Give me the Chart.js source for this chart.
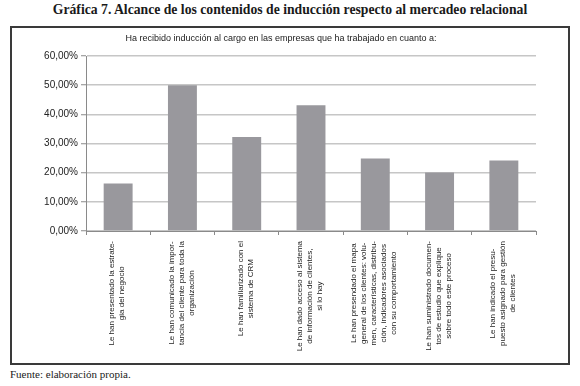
<!DOCTYPE html>
<html>
<head>
<meta charset="utf-8">
<script src="https://cdn.jsdelivr.net/npm/chart.js@4.4.1/dist/chart.umd.min.js"></script>
<style>
  body { margin: 0; width: 580px; height: 386px; background: #fff; position: relative; overflow: hidden; }
  #title { position: absolute; left: 0; top: 2px; width: 580px; text-align: center;
           font: bold 13.7px "Liberation Serif", serif; color: #1a1a1a; }
  #frame { position: absolute; left: 10px; top: 26px; width: 556px; height: 335px;
           border: 2px solid #3a3a3a; }
  #frame canvas { display: block; }
  #source { position: absolute; left: 10px; top: 368px; font: 11px "Liberation Serif", serif; color: #1a1a1a; }
</style>
</head>
<body>
<div id="title">Gráfica 7. Alcance de los contenidos de inducción respecto al mercadeo relacional</div>
<div id="frame"><canvas id="chart" width="556" height="335"></canvas></div>
<div id="source">Fuente: elaboración propia.</div>
<script>
// categories (multi-line, as broken in the original)
const categories = [
    ['Le han presentado la estrate-', 'gia del negocio'],
    ['Le han comunicado la impor-', 'tancia del cliente para toda la', 'organización'],
    ['Le han familiarizado con el', 'sistema de CRM'],
    ['Le han dado acceso al sistema', 'de información de clientes,', 'si lo hay'],
    ['Le han presendado el mapa', 'general de los clientes: volu-', 'men, características, distribu-', 'ción, indicadores asociados', 'con su comportamiento'],
    ['Le han suministrado documen-', 'tos de estudio que explique', 'sobre todo este proceso'],
    ['Le han indicado el presu-', 'puesto asignado para gestión', 'de clientes']
];
const percentages = [16.3, 50.0, 32.2, 43.1, 24.9, 20.1, 24.2];
const yTicks = [0, 10, 20, 30, 40, 50, 60];
const subtitle = 'Ha recibido inducción al cargo en las empresas que ha trabajado en cuanto a:';

const SANS = '"Liberation Sans", Arial, sans-serif';

// subtitle + rotated, centred multi-line category labels
const textPlugin = {
    id: 'texts',
    afterDraw(chart) {
        const ctx = chart.ctx;
        const xs = chart.scales.x;
        ctx.save();
        ctx.fillStyle = '#1a1a1a';
        ctx.font = '9px ' + SANS;
        ctx.textAlign = 'center';
        ctx.textBaseline = 'middle';
        ctx.fillText(subtitle, 269, 11);

        const lineH = 10;
        ctx.font = '8px ' + SANS;
        ctx.fillStyle = '#222';
        chart.data.labels.forEach((lines, i) => {
            const x = xs.getPixelForValue(i);
            const w = Math.max(...lines.map(l => ctx.measureText(l).width));
            ctx.save();
            ctx.translate(x - 1, xs.top + 10 + w / 2);
            ctx.rotate(-Math.PI / 2);
            lines.forEach((l, j) => {
                ctx.fillText(l, 0, (j - (lines.length - 1) / 2) * lineH);
            });
            ctx.restore();
        });
        ctx.restore();
    }
};

const ctx = document.getElementById('chart').getContext('2d');
new Chart(ctx, {
    type: 'bar',
    data: {
        labels: categories,
        datasets: [{
            data: percentages,
            backgroundColor: '#99989d',
            borderWidth: 0,
            barPercentage: 0.45,
            categoryPercentage: 1
        }]
    },
    options: {
        responsive: false,
        animation: false,
        layout: { padding: { left: 0, right: 32, top: 28, bottom: 0 } },
        plugins: {
            legend: { display: false },
            tooltip: { enabled: false },
            title: { display: false }
        },
        scales: {
            x: {
                afterFit: s => { s.height = 132; },
                ticks: { display: false },
                grid: {
                    offset: true,
                    drawOnChartArea: false,
                    drawTicks: true,
                    tickLength: 4,
                    tickColor: '#8a8a8a',
                    lineWidth: 1
                },
                border: { display: true, color: '#8a8a8a', width: 1 }
            },
            y: {
                min: 0,
                max: 60,
                afterFit: s => { s.width = 74; },
                afterBuildTicks: s => { s.ticks = yTicks.map(v => ({ value: v })); },
                ticks: {
                    color: '#222',
                    padding: 3,
                    font: { family: SANS, size: 10 },
                    callback: v => v.toFixed(2).replace('.', ',') + '%'
                },
                grid: {
                    color: '#c6c6c6',
                    lineWidth: 1.5,
                    tickLength: 5,
                    tickColor: '#8a8a8a',
                    tickWidth: 1
                },
                border: { display: true, color: '#8a8a8a', width: 1 }
            }
        }
    },
    plugins: [textPlugin]
});
</script>
</body>
</html>
